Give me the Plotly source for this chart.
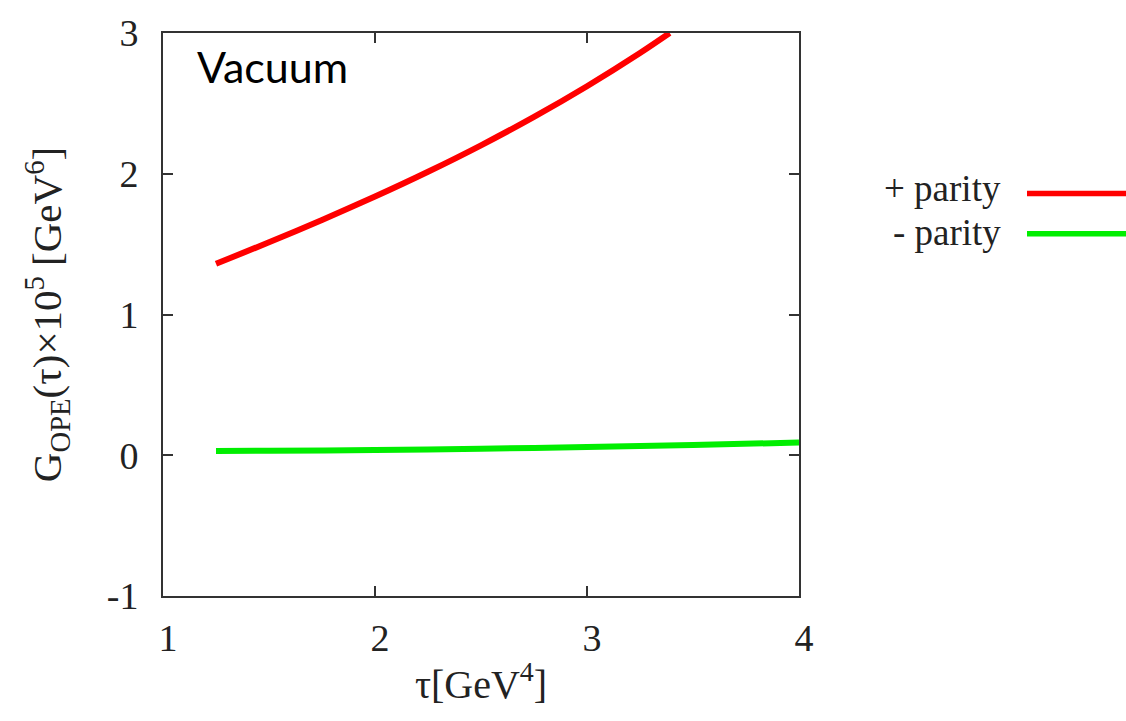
import plotly.graph_objects as go

# Data
tau_plus = [1.25, 1.5, 1.75, 2.0, 2.25, 2.5, 2.75, 3.0, 3.25, 3.39]
g_plus = [1.36, 1.513, 1.672, 1.838, 2.014, 2.202, 2.404, 2.622, 2.858, 3.0]

tau_minus = [1.25, 1.5, 2.0, 2.5, 3.0, 3.5, 4.0]
g_minus = [0.03, 0.032, 0.037, 0.046, 0.058, 0.073, 0.09]

series_names = ["+ parity", "- parity"]
series_colors = ["#ff0000", "#00ee00"]

x_ticks = [1, 2, 3, 4]
y_ticks = [-1, 0, 1, 2, 3]

W, H = 1126, 721
L, R, T, B = 163, 799, 24, 596
pw, ph = R - L, B - T

def px(xp):
    return (xp - L) / pw

def py(yp):
    return (B - yp) / ph

fig = go.Figure()
fig.add_trace(go.Scatter(x=tau_plus, y=g_plus, mode="lines", name=series_names[0],
                         line=dict(color=series_colors[0], width=6, shape="spline", smoothing=0.8),
                         showlegend=False))
fig.add_trace(go.Scatter(x=tau_minus, y=g_minus, mode="lines", name=series_names[1],
                         line=dict(color=series_colors[1], width=6, shape="spline", smoothing=0.8),
                         showlegend=False))

serif = "Liberation Serif"
axis_common = dict(showline=True, linecolor="#333333", linewidth=2, mirror="ticks",
                   ticks="inside", ticklen=10, tickwidth=1.5, tickcolor="#333333",
                   showgrid=False, zeroline=False,
                   tickfont=dict(family=serif, size=38, color="#222222"))

fig.update_xaxes(range=[1, 4], tickvals=x_ticks, ticktext=[str(v) for v in x_ticks],
                 title=dict(text="τ[GeV<sup>4</sup>]", font=dict(family=serif, size=40, color="#222222"),
                            standoff=12),
                 ticklabelstandoff=7, ticklabelshift=5, **axis_common)
fig.update_yaxes(range=[-1, 3], tickvals=y_ticks, ticktext=[str(v) for v in y_ticks],
                 title=dict(text="G<sub>OPE</sub>(τ)×10<sup>5</sup> [GeV<sup>6</sup>]",
                            font=dict(family=serif, size=41, color="#222222"), standoff=32),
                 ticklabelstandoff=15, **axis_common)

annotations = [
    dict(text="Vacuum", x=px(195), y=py(58), xref="paper", yref="paper",
         xanchor="left", yanchor="middle", showarrow=False,
         font=dict(family="Lato", size=43, color="#000000")),
]
shapes = []
leg_y = [187, 228]
leg_anchor_y = [204, 205]      # boxes of the two labels meet between the lines
leg_anchor = ["bottom", "top"]
for name, color, yy, ay, anc in zip(series_names, series_colors, leg_y, leg_anchor_y, leg_anchor):
    annotations.append(dict(text=name, x=px(1002), y=py(ay), xref="paper", yref="paper",
                            xanchor="right", yanchor=anc, showarrow=False, borderpad=0,
                            font=dict(family=serif, size=37, color="#222222")))
    shapes.append(dict(type="line", xref="paper", yref="paper",
                       x0=px(1027), x1=px(1130), y0=py(yy), y1=py(yy),
                       line=dict(color=color, width=5.5)))

fig.update_layout(width=W, height=H, margin=dict(l=L, r=W - R, t=T, b=H - B),
                  plot_bgcolor="white", paper_bgcolor="white",
                  annotations=annotations, shapes=shapes)

fig.write_html("out.html")
